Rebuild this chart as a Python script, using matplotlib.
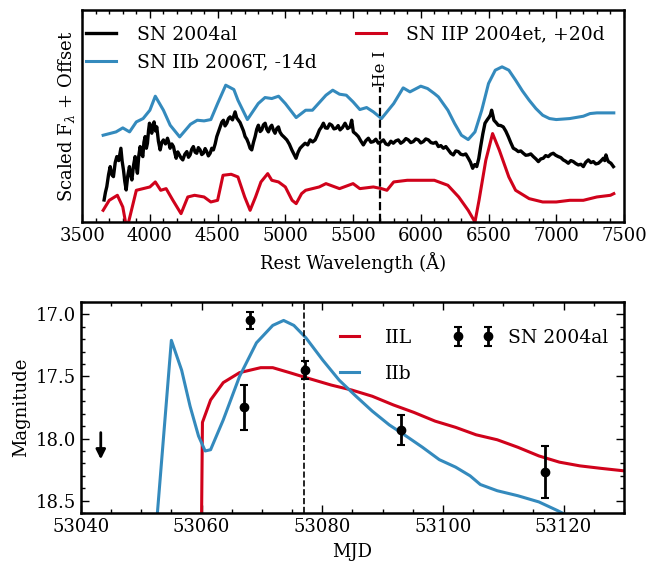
import numpy as np
import matplotlib
matplotlib.use("Agg")
import matplotlib.pyplot as plt
from matplotlib.ticker import MultipleLocator, NullLocator
from matplotlib.container import ErrorbarContainer
from matplotlib.legend_handler import HandlerErrorbar

# ---- spectra (scaled flux + offset, arbitrary units) ----
wl_2006T = [3655, 3750, 3800, 3850, 3900, 3950, 4000, 4040, 4100, 4150, 4220, 4300, 4350,
            4400, 4450, 4500, 4560, 4620, 4650, 4720, 4800, 4850, 4900, 4950, 5000, 5080,
            5150, 5200, 5300, 5350, 5400, 5450, 5500, 5550, 5600, 5650, 5710, 5800, 5870,
            5920, 6000, 6050, 6100, 6130, 6200, 6250, 6300, 6350, 6400, 6450, 6500, 6550,
            6600, 6650, 6700, 6750, 6800, 6850, 6900, 6950, 7000, 7100, 7200, 7250, 7300, 7425]
fl_2006T = [26.0, 27.0, 28.2, 27.0, 30.0, 31.0, 33.5, 37.7, 33.5, 29.0, 25.5, 29.3, 30.5,
            30.3, 30.7, 35.5, 41.0, 39.7, 36.5, 30.7, 35.5, 37.3, 37.0, 37.7, 35.5, 31.3,
            33.5, 33.5, 38.0, 39.5, 38.3, 38.0, 36.0, 33.7, 34.3, 33.0, 31.0, 35.5, 40.2,
            39.0, 40.7, 40.0, 38.5, 37.5, 33.5, 29.5, 26.0, 24.7, 27.0, 33.5, 41.5, 45.5,
            46.5, 45.5, 42.5, 39.3, 36.5, 34.0, 32.0, 31.0, 30.7, 31.0, 31.7, 32.5, 32.7, 32.7]

wl_2004al = [3662, 3672, 3682, 3695, 3707, 3720, 3731, 3744, 3756, 3770, 3786, 3795, 3805,
             3815, 3825, 3837, 3849, 3858, 3867, 3880, 3891, 3900, 3908, 3918, 3928, 3938,
             3948, 3956, 3965, 3974, 3982, 3990, 3997, 4006, 4014, 4022, 4031, 4041, 4051,
             4063, 4076, 4088, 4100, 4115, 4130, 4140, 4149, 4162, 4174, 4184, 4194, 4206,
             4218, 4230, 4243, 4258, 4273, 4285, 4297, 4309, 4321, 4334, 4346, 4358, 4371,
             4383, 4395, 4408, 4420, 4432, 4445, 4457, 4469, 4482, 4494, 4506, 4518, 4531,
             4543, 4555, 4568, 4580, 4592, 4610, 4629, 4641, 4654, 4666, 4679, 4691, 4703,
             4716, 4728, 4740, 4752, 4765, 4777, 4789, 4801, 4814, 4826, 4838, 4851, 4863,
             4875, 4888, 4900, 4912, 4924, 4937, 4949, 4961, 4974, 4992, 5011, 5030, 5048,
             5063, 5079, 5094, 5109, 5128, 5146, 5165, 5183, 5202, 5220, 5236, 5252, 5266,
             5281, 5296, 5311, 5327, 5343, 5359, 5375, 5390, 5404, 5422, 5441, 5460, 5478,
             5490, 5502, 5520, 5539, 5557, 5576, 5595, 5613, 5632, 5650, 5668, 5687, 5705,
             5724, 5742, 5761, 5779, 5797, 5815, 5834, 5852, 5871, 5890, 5908, 5926, 5945,
             5963, 5982, 6000, 6019, 6037, 6056, 6075, 6093, 6112, 6130, 6148, 6167, 6185,
             6203, 6222, 6240, 6258, 6277, 6295, 6314, 6332, 6351, 6367, 6383, 6398, 6413,
             6428, 6442, 6458, 6474, 6490, 6506, 6515, 6523, 6532, 6540, 6556, 6572, 6590,
             6609, 6628, 6646, 6664, 6683, 6701, 6720, 6738, 6757, 6775, 6794, 6812, 6831,
             6850, 6868, 6886, 6904, 6922, 6941, 6960, 6978, 6996, 7015, 7034, 7052, 7070,
             7089, 7108, 7126, 7145, 7163, 7182, 7200, 7218, 7237, 7256, 7274, 7292, 7311,
             7330, 7348, 7358, 7367, 7376, 7385, 7404, 7422]
fl_2004al = [6.6, 8.9, 10.6, 14.2, 16.6, 14.1, 13.6, 17.8, 19.6, 18.4, 22.1, 18.3, 15.6,
             12.1, 9.6, 13.9, 16.6, 14.2, 12.6, 17.1, 19.6, 16.5, 14.6, 19.8, 22.6, 20.4,
             19.6, 23.9, 25.6, 22.1, 23.6, 27.4, 29.6, 27.8, 26.6, 29.1, 30.0, 27.3, 28.5,
             24.2, 21.6, 23.9, 24.6, 23.4, 25.1, 23.8, 22.1, 23.4, 22.6, 20.7, 19.1, 21.0,
             20.1, 19.2, 18.6, 20.3, 21.1, 19.4, 20.1, 21.8, 22.6, 20.9, 20.6, 22.3, 21.6,
             20.2, 20.6, 22.0, 21.1, 19.8, 20.6, 22.1, 21.6, 23.4, 25.6, 27.0, 28.5, 29.9,
             30.5, 28.8, 29.6, 31.0, 31.5, 30.6, 33.0, 31.2, 30.5, 29.8, 28.5, 27.3, 25.6,
             24.8, 23.6, 22.1, 21.6, 23.9, 25.6, 27.8, 29.0, 27.1, 27.6, 29.1, 29.6, 27.8,
             27.0, 28.4, 29.0, 27.5, 26.6, 28.0, 28.5, 26.9, 26.1, 25.4, 24.6, 23.3, 21.6,
             20.4, 19.1, 20.9, 22.1, 22.9, 23.6, 23.1, 24.6, 24.0, 24.6, 26.0, 27.6, 28.4,
             29.6, 28.2, 28.1, 29.4, 29.0, 27.9, 28.1, 28.9, 27.6, 28.3, 29.6, 28.0, 28.5,
             30.5, 27.0, 26.4, 25.6, 24.3, 23.1, 24.4, 25.1, 23.9, 24.1, 24.8, 23.6, 24.0,
             24.6, 23.4, 23.1, 24.2, 23.6, 24.3, 24.6, 23.6, 24.1, 25.0, 24.6, 23.8, 24.1,
             24.9, 24.6, 23.7, 24.1, 24.9, 24.6, 23.8, 23.6, 23.9, 22.6, 22.9, 22.1, 22.6,
             21.6, 20.6, 20.1, 21.3, 21.1, 20.3, 20.1, 20.4, 19.1, 17.9, 16.1, 17.2, 16.6,
             19.0, 22.6, 26.4, 29.6, 30.6, 31.5, 32.2, 33.5, 32.0, 30.5, 29.8, 29.0, 28.9,
             28.5, 27.2, 25.6, 23.8, 22.1, 21.7, 21.1, 21.3, 20.6, 20.0, 20.1, 20.4, 19.6,
             18.9, 18.1, 18.9, 19.1, 19.9, 19.6, 20.3, 20.6, 20.0, 19.6, 19.3, 18.6, 18.2,
             17.6, 18.4, 18.1, 17.5, 17.1, 17.3, 16.6, 17.9, 18.6, 17.8, 18.1, 17.4, 17.6,
             18.3, 19.1, 18.4, 20.1, 18.9, 18.1, 17.6, 16.6]

wl_2004et = [3655, 3700, 3760, 3800, 3820, 3840, 3870, 3900, 3950, 4000, 4040, 4080, 4120,
             4170, 4230, 4280, 4330, 4400, 4450, 4500, 4540, 4600, 4650, 4700, 4740, 4780,
             4820, 4870, 4900, 4950, 5000, 5050, 5080, 5120, 5150, 5250, 5300, 5400, 5500,
             5550, 5650, 5710, 5750, 5800, 5900, 6000, 6100, 6200, 6280, 6350, 6400, 6430,
             6480, 6530, 6580, 6650, 6700, 6800, 6900, 7000, 7100, 7200, 7300, 7400, 7425]
fl_2004et = [3.5, 6.5, 8.0, 4.5, 0.0, -0.5, 4.5, 9.5, 10.0, 10.5, 12.0, 9.5, 10.0,
             6.5, 2.5, 7.5, 8.0, 7.5, 6.0, 6.5, 14.0, 14.3, 13.5, 7.5, 3.5, 7.5,
             12.0, 14.5, 12.5, 12.0, 10.5, 6.5, 5.5, 8.5, 9.5, 10.5, 11.5, 10.0, 11.5,
             10.0, 10.5, 10.0, 9.5, 12.0, 12.5, 12.5, 12.5, 11.0, 7.5, 3.5, 0.0, 6.5,
             18.5, 26.5, 21.5, 13.5, 9.5, 7.0, 6.0, 6.0, 6.5, 6.5, 7.5, 8.0, 8.5]

he_wl = 5700

# ---- light curves ----
mjd_iil = [53060.0, 53060.15, 53061.5, 53063.6, 53066.3, 53069.8, 53071.8, 53074.6, 53077.3,
           53081.5, 53084.9, 53088.3, 53091.8, 53095.2, 53098.7, 53102.1, 53105.5, 53109.0,
           53112.4, 53115.9, 53119.3, 53122.7, 53126.2, 53130.0]
mag_iil = [18.65, 17.87, 17.69, 17.55, 17.47, 17.43, 17.43, 17.47, 17.51,
           17.57, 17.61, 17.66, 17.73, 17.79, 17.86, 17.91, 17.97, 18.01,
           18.07, 18.14, 18.19, 18.22, 18.24, 18.26]

mjd_iib = [53052.6, 53055.0, 53056.7, 53058.1, 53059.5, 53060.6, 53061.5, 53063.6, 53066.3,
           53069.1, 53071.8, 53073.6, 53075.3, 53077.3, 53080.1, 53082.8, 53085.6, 53088.3,
           53091.1, 53093.9, 53096.6, 53099.4, 53102.1, 53104.5, 53106.2, 53109.0, 53112.4,
           53115.9, 53119.0, 53121.0]
mag_iib = [18.65, 17.21, 17.45, 17.74, 17.98, 18.10, 18.09, 17.85, 17.50,
           17.23, 17.09, 17.05, 17.09, 17.19, 17.37, 17.53, 17.66, 17.78,
           17.89, 17.98, 18.07, 18.17, 18.23, 18.30, 18.37, 18.42, 18.46,
           18.51, 18.58, 18.63]

mjd_obs = [53068.1, 53067.1, 53077.1, 53093.0, 53116.9]
mag_obs = [17.05, 17.75, 17.45, 17.93, 18.27]
err_obs = [0.07, 0.18, 0.07, 0.12, 0.21]

mjd_lim, mag_lim, mag_lim_end = 53043.3, 17.93, 18.19
mjd_spec = 53077

c_red = '#D0021B'
c_blue = '#348ABD'

plt.rcParams['font.family'] = ['DejaVu Serif']
plt.rcParams['mathtext.fontset'] = 'dejavuserif'
plt.rcParams['font.size'] = 13

fig = plt.figure(figsize=(6.52, 5.62), dpi=100)
ax1 = fig.add_axes([0.126, 0.605, 0.831, 0.377])
ax2 = fig.add_axes([0.124, 0.087, 0.833, 0.376])

ax1.plot(wl_2004al, fl_2004al, color='black', lw=2.4, label='SN 2004al')
ax1.plot(wl_2006T, fl_2006T, color=c_blue, lw=2.2, label='SN IIb 2006T, -14d')
ax1.plot(wl_2004et, fl_2004et, color=c_red, lw=2.2, label='SN IIP 2004et, +20d')
ax1.axvline(he_wl, ymin=0, ymax=0.635, color='black', ls='--', lw=1.6)
ax1.text(he_wl, 40.6, 'He I', rotation=90, ha='center', va='bottom', fontsize=12)
ax1.set_xlim(3500, 7500)
ax1.set_ylim(0, 63.5)
ax1.xaxis.set_major_locator(MultipleLocator(500))
ax1.xaxis.set_minor_locator(MultipleLocator(100))
ax1.yaxis.set_major_locator(NullLocator())
ax1.set_xlabel('Rest Wavelength (Å)', labelpad=5)
ax1.set_ylabel(r'Scaled F$_\lambda$ + Offset')
ax1.legend(loc='upper left', bbox_to_anchor=(0.0, 0.945), ncol=2, frameon=False,
           fontsize=13.5, handlelength=1.6, handletextpad=1.1, columnspacing=2.1,
           labelspacing=0.55, borderpad=0.2, borderaxespad=0)

ax2.plot(mjd_iil, mag_iil, color=c_red, lw=2.2, label='IIL')
ax2.plot(mjd_iib, mag_iib, color=c_blue, lw=2.2, label='IIb')
ax2.errorbar(mjd_obs, mag_obs, yerr=err_obs, fmt='o', color='black', ms=6,
             elinewidth=2, capsize=3, capthick=1.5, label='SN 2004al')
ax2.annotate('', xy=(mjd_lim, mag_lim_end), xytext=(mjd_lim, mag_lim),
             arrowprops=dict(arrowstyle='-|>', color='black', lw=2, mutation_scale=14))
ax2.axvline(mjd_spec, color='black', ls='--', lw=1.2)
ax2.set_xlim(53040, 53130)
ax2.set_ylim(18.6, 16.9)
ax2.xaxis.set_major_locator(MultipleLocator(20))
ax2.xaxis.set_minor_locator(MultipleLocator(5))
ax2.yaxis.set_major_locator(MultipleLocator(0.5))
ax2.yaxis.set_minor_locator(MultipleLocator(0.1))
ax2.xaxis.get_major_formatter().set_useOffset(False)
ax2.set_xlabel('MJD', labelpad=5)
ax2.set_ylabel('Magnitude')
ax2.legend(loc='upper right', bbox_to_anchor=(0.978, 0.89), ncol=2, frameon=False,
           numpoints=2, fontsize=13.5, handlelength=1.6, handletextpad=1.1,
           columnspacing=2.4, labelspacing=0.95, borderpad=0.2, borderaxespad=0,
           handler_map={ErrorbarContainer: HandlerErrorbar(marker_pad=0.0)})

for ax in (ax1, ax2):
    ax.tick_params(which='both', direction='in', top=True, right=True)
    ax.tick_params(which='major', length=6, width=1)
    ax.tick_params(which='minor', length=3, width=1)
    for s in ax.spines.values():
        s.set_linewidth(1.8)

fig.savefig('out.png', dpi=100)
